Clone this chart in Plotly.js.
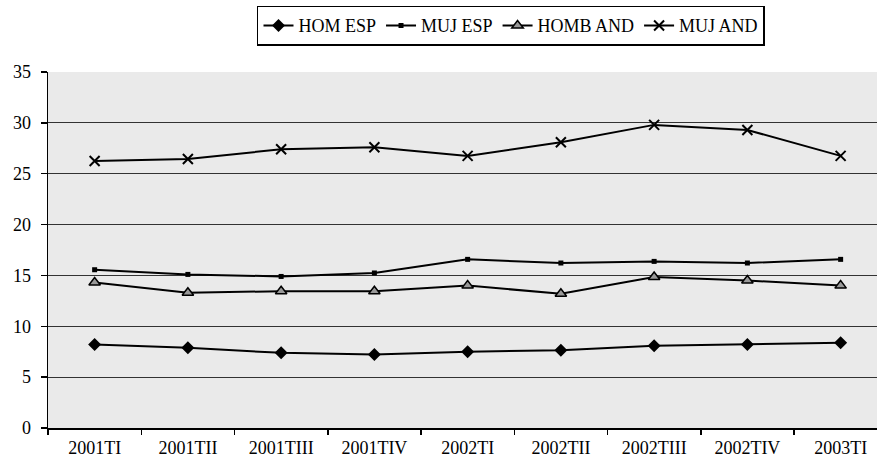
<!DOCTYPE html>
<html>
<head>
<meta charset="utf-8">
<script src="https://cdn.plot.ly/plotly-3.0.1.min.js"></script>
<style>html,body{margin:0;padding:0;background:#fff;}#chart{width:877px;height:461px;}</style>
</head>
<body>
<div id="chart"></div>
<script>
const categories = ["2001TI","2001TII","2001TIII","2001TIV","2002TI","2002TII","2002TIII","2002TIV","2003TI"];
const homEsp  = [8.2, 7.88, 7.39, 7.23, 7.49, 7.65, 8.08, 8.2, 8.37];
const mujEsp  = [15.56, 15.1, 14.9, 15.24, 16.58, 16.22, 16.38, 16.22, 16.58];
const hombAnd = [14.3, 13.3, 13.45, 13.45, 14.0, 13.2, 14.85, 14.5, 14.0];
const mujAnd  = [26.25, 26.45, 27.4, 27.6, 26.75, 28.1, 29.8, 29.3, 26.75];
const seriesNames = ["HOM ESP","MUJ ESP","HOMB AND","MUJ AND"];

const font = {family: "'Liberation Serif', 'Times New Roman', serif", size: 18, color: "#000"};
const line = {color: "#000", width: 2};

const traces = [
  {x: categories, y: homEsp, name: seriesNames[0], type: "scatter", mode: "lines+markers",
   line: line, marker: {symbol: "diamond", size: 10, color: "#000"}},
  {x: categories, y: mujEsp, name: seriesNames[1], type: "scatter", mode: "lines+markers",
   line: line, marker: {symbol: "square", size: 5, color: "#000"}},
  {x: categories, y: hombAnd, name: seriesNames[2], type: "scatter", mode: "lines+markers",
   line: line, marker: {symbol: "triangle-up", size: 10, color: "#999", line: {color: "#000", width: 1.5}}},
  {x: categories, y: mujAnd, name: seriesNames[3], type: "scatter", mode: "lines+markers",
   line: line, marker: {symbol: "x-thin", size: 10, color: "#000", line: {color: "#000", width: 2}}}
];

const layout = {
  width: 877, height: 461,
  margin: {l: 48, r: 0, t: 72, b: 33},
  paper_bgcolor: "#fff",
  plot_bgcolor: "#eaeaea",
  font: font,
  showlegend: true,
  legend: {
    orientation: "h", x: 0.5585, xanchor: "center", y: 1.13, yanchor: "middle",
    bordercolor: "#000", borderwidth: 1.5, bgcolor: "#fff",
    font: font, itemwidth: 30, tracegroupgap: 0
  },
  xaxis: {
    type: "category", range: [-0.5, 8.39],
    tickson: "boundaries", ticks: "outside", ticklen: 5, tickcolor: "#000", tickwidth: 1.5,
    ticklabelstandoff: 3,
    showline: true, linecolor: "#000", linewidth: 1.5,
    showgrid: false, zeroline: false, tickfont: font, fixedrange: true
  },
  yaxis: {
    range: [0, 35], dtick: 5, tick0: 0,
    ticks: "outside", ticklen: 6, tickcolor: "#000", tickwidth: 1.5,
    ticklabelstandoff: 6,
    showline: true, linecolor: "#000", linewidth: 1.5,
    showgrid: true, gridcolor: "#333", gridwidth: 1, zeroline: false,
    tickfont: font, fixedrange: true
  }
};

Plotly.newPlot("chart", traces, layout, {displayModeBar: false, staticPlot: true});
</script>
</body>
</html>
